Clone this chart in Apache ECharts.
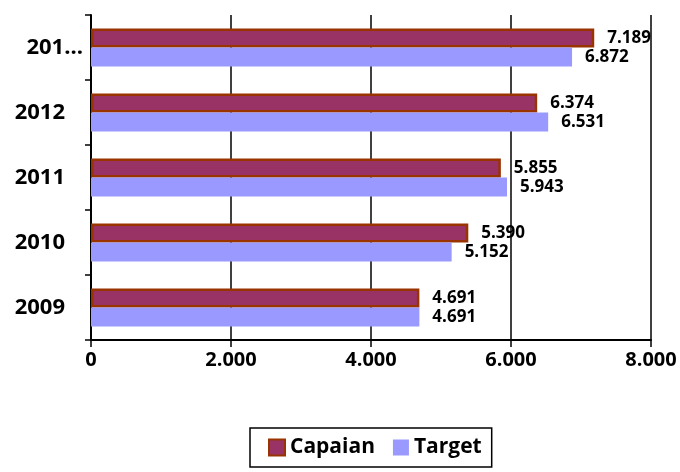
<!DOCTYPE html>
<html><head><meta charset="utf-8">
<script src="https://cdn.jsdelivr.net/npm/echarts@6/dist/echarts.min.js"></script>
<style>html,body{margin:0;padding:0;background:#fff}#c{width:680px;height:472px}</style>
</head><body><div id="c"></div>
<script>
const categories = ['2009', '2010', '2011', '2012', '201...'];
const capaian = [4691, 5390, 5855, 6374, 7189];
const target = [4691, 5152, 5943, 6531, 6872];
const xTicks = [0, 2000, 4000, 6000, 8000];

function fmt(v) {
  return String(v).replace(/\B(?=(\d{3})+(?!\d))/g, '.');
}
const FONT = 'Open Sans';
const chart = echarts.init(document.getElementById('c'));
chart.setOption({
  animation: false,
  textStyle: { fontFamily: FONT },
  grid: { left: 91, right: 29, top: 15, bottom: 132, containLabel: false },
  legend: {
    top: 428, left: 250,
    icon: 'rect',
    data: ['Capaian', 'Target'],
    itemWidth: 16, itemHeight: 16, itemGap: 18,
    borderColor: '#000', borderWidth: 1.5,
    padding: [9, 10, 9, 18],
    textStyle: { fontFamily: FONT, fontWeight: 'bold', fontSize: 21, color: '#000' }
  },
  xAxis: {
    type: 'value', min: 0, max: 8000, interval: 2000,
    axisLine: { show: true, lineStyle: { color: '#000', width: 2 } },
    axisTick: { show: true, inside: false, length: 7, lineStyle: { color: '#000', width: 1.5 } },
    splitLine: { show: true, lineStyle: { color: '#000', width: 1.5 } },
    axisLabel: { margin: 10, fontFamily: FONT, fontWeight: 'bold', fontSize: 20, color: '#000',
      formatter: v => fmt(v) }
  },
  yAxis: {
    type: 'category',
    data: categories.map(c => c.endsWith('...') ? { value: c, textStyle: { padding: [0, -18, 0, 0] } } : c),
    axisLine: { show: true, lineStyle: { color: '#000', width: 2 } },
    axisTick: { show: true, length: 6, lineStyle: { color: '#000', width: 1.5 } },
    axisLabel: { margin: 26, fontFamily: FONT, fontWeight: 'bold', fontSize: 22, color: '#000' }
  },
  series: [
    {
      name: 'Capaian', type: 'bar', data: capaian,
      barWidth: 19, barGap: '0%',
      itemStyle: { color: '#993366', borderColor: '#993300', borderWidth: 2.5 },
      label: { show: true, position: 'right', distance: 13, fontFamily: FONT, fontWeight: 'bold', fontSize: 17, color: '#000',
        formatter: p => fmt(p.value) }
    },
    {
      name: 'Target', type: 'bar', data: target,
      barWidth: 19, barGap: '0%',
      itemStyle: { color: '#9999FF' },
      label: { show: true, position: 'right', distance: 13, fontFamily: FONT, fontWeight: 'bold', fontSize: 17, color: '#000',
        formatter: p => fmt(p.value) }
    }
  ]
});
</script></body></html>
